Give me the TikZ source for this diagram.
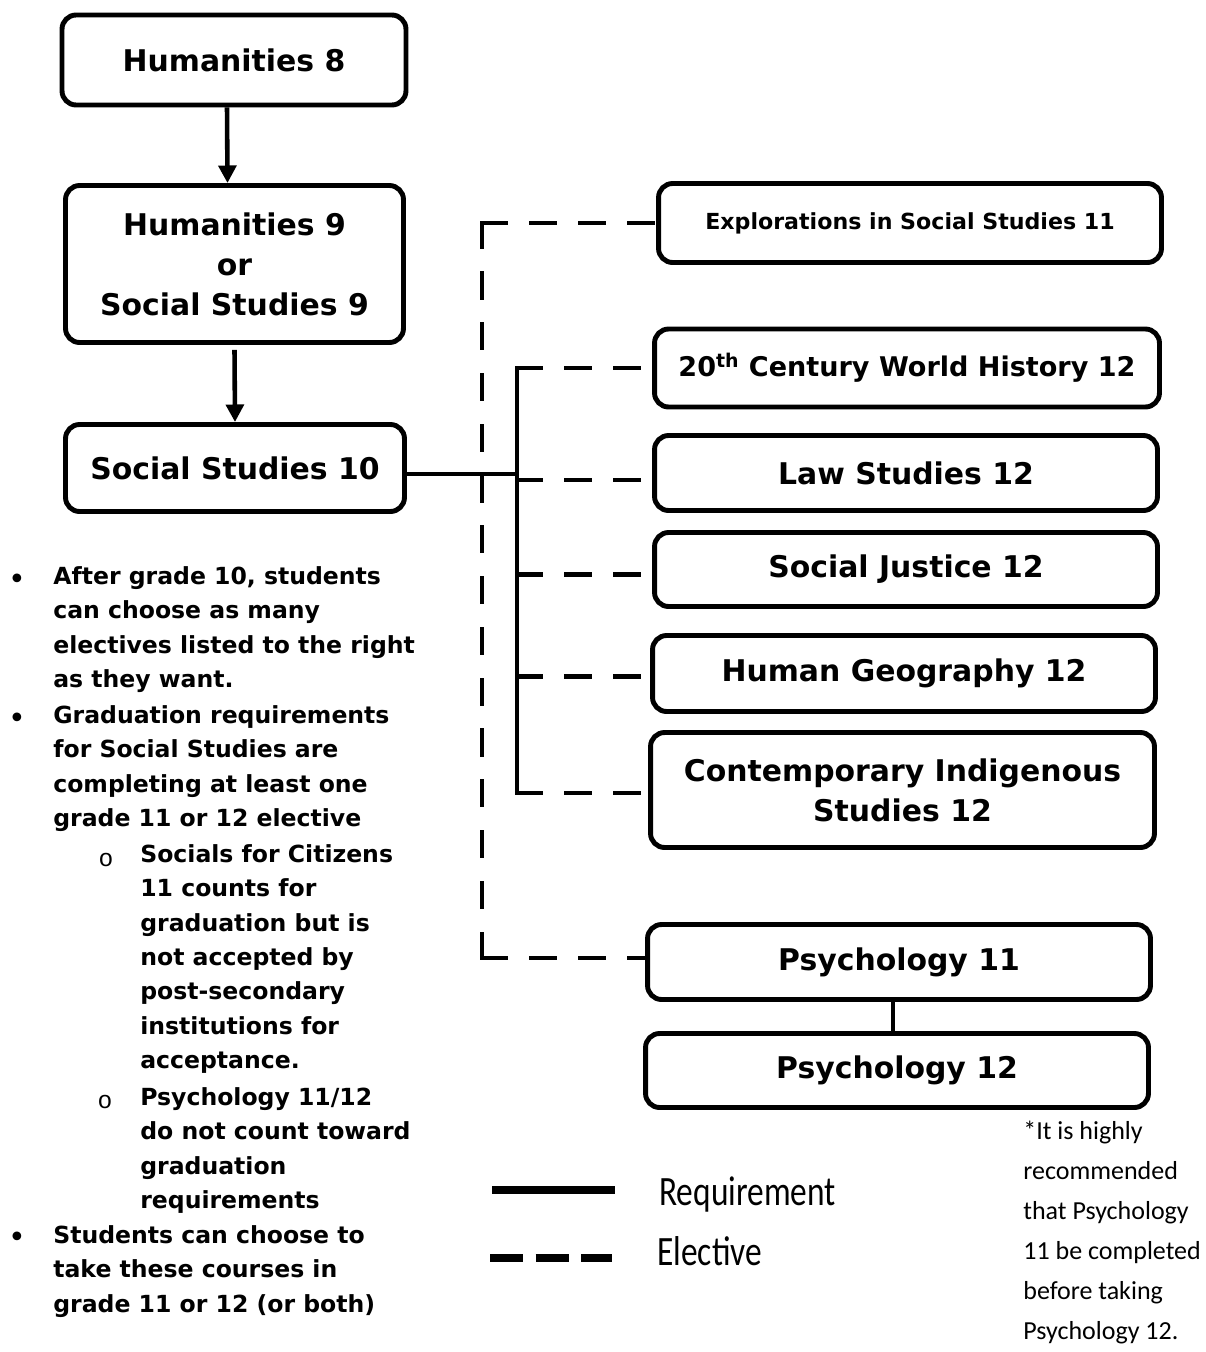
\documentclass[tikz,border=0pt]{standalone}
\usepackage{fontspec}
\setmainfont{DejaVu Sans}
\newfontfamily\calibri{Carlito}
\newfontfamily\courier{Liberation Mono}
\usetikzlibrary{arrows.meta}

\begin{document}
\begin{tikzpicture}[x=0.02cm,y=-0.02cm]
	% définition des styles
	\tikzstyle{cours}=[rectangle,draw,rounded corners=8pt,line width=2.8pt,align=center,inner sep=0pt,font=\fontsize{17}{22.7}\selectfont\bfseries]
	\tikzstyle{petit}=[font=\fontsize{12.6}{16}\selectfont\bfseries]
	\tikzstyle{moyen}=[font=\fontsize{15.4}{20}\selectfont\bfseries]
	\tikzstyle{fleche}=[line width=2.6pt,-{Triangle[width=10pt,length=10pt]}]
	\tikzstyle{requis}=[line width=2.6pt]
	\tikzstyle{facultatif}=[line width=2.6pt,line cap=rect,dash pattern=on 13.4pt off 14.6pt]
	\tikzstyle{liste}=[anchor=north west,align=left,inner sep=0pt,font=\fontsize{13.4}{19.6}\selectfont\bfseries]
	\tikzstyle{puce}=[anchor=base,inner sep=0pt,font=\fontsize{14}{19.6}\selectfont\bfseries]
	\tikzstyle{souspuce}=[inner sep=0pt,font=\courier\fontsize{14}{16}\selectfont]
	\tikzstyle{legende}=[anchor=west,inner sep=0pt,font=\calibri\fontsize{19}{23}\selectfont]
	\tikzstyle{remarque}=[anchor=north west,align=left,inner sep=0pt,font=\calibri\fontsize{14.8}{22.7}\selectfont]
	\useasboundingbox (0,0) rectangle (1206,1352);
	% les cours obligatoires
	\node[cours,minimum width=6.88cm,minimum height=1.8cm] (h8) at (234,60) {Humanities 8};
	\node[cours,minimum width=6.76cm,minimum height=3.14cm] (h9) at (234.5,264) {Humanities 9\\or\\Social Studies 9};
	\node[cours,minimum width=6.78cm,minimum height=1.74cm] (ss10) at (235,468) {Social Studies 10};
	% les cours optionnels
	\node[cours,petit,minimum width=10.06cm,minimum height=1.58cm] (expl) at (910,223) {Explorations in Social Studies 11};
	\node[cours,moyen,minimum width=10.1cm,minimum height=1.56cm] (wh20) at (907,368) {20\textsuperscript{th} Century World History 12};
	\node[cours,minimum width=10.06cm,minimum height=1.5cm] (law) at (906,473) {Law Studies 12};
	\node[cours,minimum width=10.06cm,minimum height=1.48cm] (sj) at (906,569.5) {Social Justice 12};
	\node[cours,minimum width=10.06cm,minimum height=1.52cm] (hg) at (904,673.5) {Human Geography 12};
	\node[cours,minimum width=10.08cm,minimum height=2.3cm] (cis) at (902.5,790) {Contemporary Indigenous\\Studies 12};
	\node[cours,minimum width=10.06cm,minimum height=1.5cm] (psy11) at (899,962) {Psychology 11};
	\node[cours,minimum width=10.06cm,minimum height=1.48cm] (psy12) at (897,1070.5) {Psychology 12};
	% les flèches
	\draw[fleche] ([xshift=-0.14cm]h8.south) -- ([xshift=-0.14cm]h9.north);
	\draw[fleche] ([yshift=-0.1cm]h9.south) -- (ss10.north);
	% les liaisons
	\coordinate (tronc) at (517,0);
	\coordinate (bord) at (482,0);
	\draw[requis] ([yshift=-0.12cm]ss10.east) -- ([yshift=-0.12cm]ss10.east -| tronc);
	\draw[requis] (wh20.west -| tronc) -- ([yshift=-0.06cm]cis.west -| tronc);
	\draw[facultatif] (wh20.west -| tronc) -- (wh20.west);
	\draw[facultatif] ([yshift=-0.14cm]law.west -| tronc) -- ([yshift=-0.14cm]law.west);
	\draw[facultatif] ([yshift=-0.1cm]sj.west -| tronc) -- ([yshift=-0.1cm]sj.west);
	\draw[facultatif] ([yshift=-0.06cm]hg.west -| tronc) -- ([yshift=-0.06cm]hg.west);
	\draw[facultatif] ([yshift=-0.06cm]cis.west -| tronc) -- ([yshift=-0.06cm]cis.west);
	\draw[facultatif] (expl.west -| bord) -- (expl.west);
	\draw[facultatif,dash pattern=on 13.4pt off 15.5pt] (expl.west -| bord) -- ([yshift=0.08cm]psy11.west -| bord);
	\draw[facultatif] ([yshift=0.08cm]psy11.west -| bord) -- ([yshift=0.08cm]psy11.west);
	\draw[requis] ([xshift=-0.12cm]psy11.south) -- ([xshift=-0.12cm]psy11.south |- psy12.north);
	% les remarques
	\node[puce] (p1) at (17,587) {•};
	\node[liste] (b1) at (53,566) {After grade 10, students\\can choose as many\\electives listed to the right\\as they want.};
	\node[puce] (p2) at (17,726) {•};
	\node[liste] (b2) at (53,705) {Graduation requirements\\for Social Studies are\\completing at least one\\grade 11 or 12 elective};
	\node[souspuce] (o1) at (106,860) {o};
	\node[liste] (s1) at (140,844) {Socials for Citizens\\11 counts for\\graduation but is\\not accepted by\\post-secondary\\institutions for\\acceptance.};
	\node[souspuce] (o2) at (105,1102) {o};
	\node[liste] (s2) at (140,1087) {Psychology 11/12\\do not count toward\\graduation\\requirements};
	\node[puce] (p3) at (17,1245) {•};
	\node[liste] (b3) at (53,1225) {Students can choose to\\take these courses in\\grade 11 or 12 (or both)};
	% la légende
	\coordinate (r1) at (492,1190);
	\coordinate (r2) at (615,1190);
	\coordinate (e1) at (490,1258);
	\coordinate (e2) at (612,1258);
	\draw[line width=4.2pt] (r1) -- (r2);
	\draw[line width=4.2pt,dash pattern=on 19pt off 7pt] (e1) -- (e2);
	\node[legende] (lr) at (659,1194) {\scalebox{1}[1.25]{Requirement}};
	\node[legende] (le) at (657,1251) {\scalebox{1}[1.25]{Elective}};
	\node[remarque] (nb) at (1023,1121) {*It is highly\\recommended\\that Psychology\\11 be completed\\before taking\\Psychology 12.};
\end{tikzpicture}
\end{document}
